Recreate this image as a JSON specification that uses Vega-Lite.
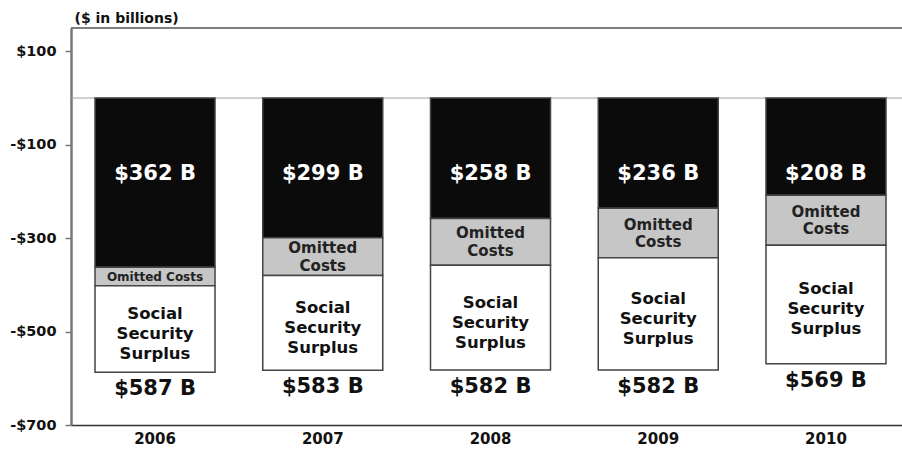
{
  "$schema": "https://vega.github.io/schema/vega-lite/v6.json",
  "width": 831,
  "height": 397,
  "autosize": {"type": "none"},
  "padding": {"left": 71, "top": 28, "right": 0, "bottom": 25},
  "background": "white",
  "config": {"view": {"stroke": null}, "font": "DejaVu Sans"},
  "datasets": {
    "segments": [
      {"year": "2006", "part": "deficit", "start": 0, "end": -362, "label": "$362 B"},
      {"year": "2006", "part": "omitted", "start": -362, "end": -402, "label": "Omitted Costs"},
      {"year": "2006", "part": "surplus", "start": -402, "end": -587, "label": "Social|Security|Surplus"},
      {"year": "2007", "part": "deficit", "start": 0, "end": -299, "label": "$299 B"},
      {"year": "2007", "part": "omitted", "start": -299, "end": -380, "label": "Omitted|Costs"},
      {"year": "2007", "part": "surplus", "start": -380, "end": -583, "label": "Social|Security|Surplus"},
      {"year": "2008", "part": "deficit", "start": 0, "end": -258, "label": "$258 B"},
      {"year": "2008", "part": "omitted", "start": -258, "end": -358, "label": "Omitted|Costs"},
      {"year": "2008", "part": "surplus", "start": -358, "end": -582, "label": "Social|Security|Surplus"},
      {"year": "2009", "part": "deficit", "start": 0, "end": -236, "label": "$236 B"},
      {"year": "2009", "part": "omitted", "start": -236, "end": -342, "label": "Omitted|Costs"},
      {"year": "2009", "part": "surplus", "start": -342, "end": -582, "label": "Social|Security|Surplus"},
      {"year": "2010", "part": "deficit", "start": 0, "end": -208, "label": "$208 B"},
      {"year": "2010", "part": "omitted", "start": -208, "end": -315, "label": "Omitted|Costs"},
      {"year": "2010", "part": "surplus", "start": -315, "end": -569, "label": "Social|Security|Surplus"}
    ],
    "totals": [
      {"year": "2006", "bottom": -587, "label": "$587 B"},
      {"year": "2007", "bottom": -583, "label": "$583 B"},
      {"year": "2008", "bottom": -582, "label": "$582 B"},
      {"year": "2009", "bottom": -582, "label": "$582 B"},
      {"year": "2010", "bottom": -569, "label": "$569 B"}
    ]
  },
  "layer": [
    {
      "data": {"values": [{}]},
      "mark": {"type": "rule", "color": "#a0a0a0", "strokeWidth": 1},
      "encoding": {"y": {"datum": 0, "type": "quantitative"}}
    },
    {
      "data": {"values": [{}]},
      "mark": {"type": "rule", "color": "#555555", "strokeWidth": 1.5},
      "encoding": {"y": {"datum": 150, "type": "quantitative"}}
    },
    {
      "data": {"name": "segments"},
      "mark": {"type": "bar", "stroke": "#444444", "strokeWidth": 1.5},
      "encoding": {
        "x": {
          "field": "year", "type": "ordinal",
          "scale": {"paddingInner": 0.2846, "paddingOuter": 0.1193, "align": 0.6},
          "axis": {"title": null, "labelAngle": 0, "ticks": false, "labelPadding": 6,
                   "labelFont": "DejaVu Sans", "labelFontWeight": "bold", "labelFontSize": 15,
                   "labelColor": "#111111", "domainColor": "#333333", "domainWidth": 1.5}
        },
        "y": {
          "field": "start", "type": "quantitative",
          "scale": {"domain": [-700, 150], "nice": false, "zero": false},
          "axis": {
            "values": [-700, -500, -300, -100, 100],
            "labelExpr": "datum.value < 0 ? '-$' + abs(datum.value) : '$' + datum.value",
            "labelFont": "DejaVu Sans", "labelFontWeight": "bold", "labelFontSize": 14.5,
            "labelColor": "#111111", "labelPadding": 9,
            "tickSize": 6, "tickColor": "#777777", "tickWidth": 1.5,
            "domainColor": "#777777", "domainWidth": 2.5, "grid": false,
            "title": "($ in billions)", "titleAngle": 0, "titleAlign": "left",
            "titleBaseline": "middle", "titleX": 3, "titleY": -9.5,
            "titleFont": "DejaVu Sans", "titleFontSize": 14, "titleFontWeight": "bold",
            "titleColor": "#111111"
          }
        },
        "y2": {"field": "end"},
        "fill": {
          "field": "part", "type": "nominal",
          "scale": {"domain": ["deficit", "omitted", "surplus"], "range": ["#0b0b0b", "#c6c6c6", "#ffffff"]},
          "legend": null
        }
      }
    },
    {
      "data": {"name": "segments"},
      "transform": [{"filter": "datum.part == 'deficit'"}],
      "mark": {"type": "text", "color": "#ffffff", "fontSize": 21, "fontWeight": "bold", "baseline": "middle", "align": "center"},
      "encoding": {
        "x": {"field": "year", "type": "ordinal"},
        "y": {"datum": -162, "type": "quantitative"},
        "text": {"field": "label", "type": "nominal"}
      }
    },
    {
      "data": {"name": "segments"},
      "transform": [{"filter": "datum.part == 'omitted' && datum.year == '2006'"}, {"calculate": "(datum.start + datum.end) / 2", "as": "mid"}],
      "mark": {"type": "text", "color": "#222222", "fontSize": 12, "fontWeight": "bold", "baseline": "middle", "align": "center", "dy": 1},
      "encoding": {
        "x": {"field": "year", "type": "ordinal"},
        "y": {"field": "mid", "type": "quantitative"},
        "text": {"field": "label", "type": "nominal"}
      }
    },
    {
      "data": {"name": "segments"},
      "transform": [{"filter": "datum.part == 'omitted' && datum.year != '2006'"}, {"calculate": "(datum.start + datum.end) / 2", "as": "mid"}],
      "mark": {"type": "text", "color": "#222222", "fontSize": 15, "fontWeight": "bold", "baseline": "middle", "align": "center", "lineBreak": "|", "lineHeight": 17.5, "dy": -8.5},
      "encoding": {
        "x": {"field": "year", "type": "ordinal"},
        "y": {"field": "mid", "type": "quantitative"},
        "text": {"field": "label", "type": "nominal"}
      }
    },
    {
      "data": {"name": "segments"},
      "transform": [{"filter": "datum.part == 'surplus'"}, {"calculate": "(datum.start + datum.end) / 2", "as": "mid"}],
      "mark": {"type": "text", "color": "#111111", "fontSize": 16.5, "fontWeight": "bold", "baseline": "middle", "align": "center", "lineBreak": "|", "lineHeight": 20, "dy": -15},
      "encoding": {
        "x": {"field": "year", "type": "ordinal"},
        "y": {"field": "mid", "type": "quantitative"},
        "text": {"field": "label", "type": "nominal"}
      }
    },
    {
      "data": {"name": "totals"},
      "mark": {"type": "text", "color": "#111111", "fontSize": 21, "fontWeight": "bold", "baseline": "middle", "align": "center", "dy": 17},
      "encoding": {
        "x": {"field": "year", "type": "ordinal"},
        "y": {"field": "bottom", "type": "quantitative"},
        "text": {"field": "label", "type": "nominal"}
      }
    }
  ]
}
